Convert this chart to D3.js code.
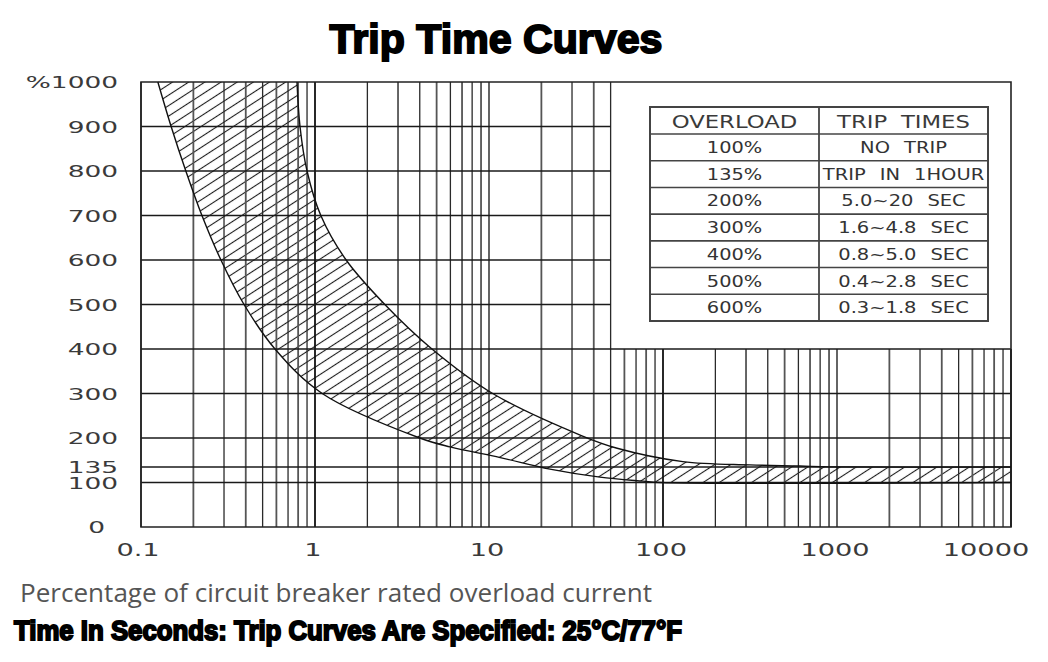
<!DOCTYPE html>
<html><head><meta charset="utf-8">
<script src="https://cdn.jsdelivr.net/npm/d3@7"></script>
<style>body{margin:0;background:#fff}svg{display:block}</style>
</head><body>
<svg id="chart" width="1048" height="662"></svg>
<script>
// ---- data ----
const xTickValues = [0.1, 1, 10, 100, 1000, 10000];
const xTickLabels = ["0.1", "1", "10", "100", "1000", "10000"];
const yTickValues = [0, 100, 135, 200, 300, 400, 500, 600, 700, 800, 900, 1000];
const yTickLabels = ["0", "100", "135", "200", "300", "400", "500", "600", "700", "800", "900", "%1000"];
const hGridValues = [100, 135, 200, 300, 400, 500, 600, 700, 800, 900];

// fast-trip (lower) boundary: overload % vs seconds
const fastLoad = [1000, 900, 800, 700, 600, 500, 400, 300, 200, 180, 156, 130, 112, 103, 100, 100];
const fastTime = [0.125, 0.149, 0.181, 0.224, 0.288, 0.391, 0.589, 1.10, 4.0, 5.97, 11.6, 22.4, 43.4, 76.8, 96, 10000];
// slow-trip (upper) boundary
const slowLoad = [1000, 900, 800, 700, 600, 500, 400, 300, 205, 177, 147, 139.5, 137, 135, 135];
const slowTime = [0.788, 0.82, 0.90, 1.08, 1.51, 2.52, 4.70, 10.5, 34.2, 54.5, 130, 316, 613, 912, 10000];

const tableHeaders = ["OVERLOAD", "TRIP TIMES"];
const overloadLabels = ["100%", "135%", "200%", "300%", "400%", "500%", "600%"];
const tripTimeLabels = ["NO TRIP", "TRIP IN 1HOUR", "5.0~20 SEC", "1.6~4.8 SEC", "0.8~5.0 SEC", "0.4~2.8 SEC", "0.3~1.8 SEC"];

const titleText = "Trip Time Curves";
const xAxisText = "Percentage of circuit breaker rated overload current";
const noteText = "Time In Seconds: Trip Curves Are Specified: 25°C/77°F";

// ---- layout ----
const svg = d3.select("#chart");
const M = {left: 141, right: 1011, top: 82, bottom: 527};
const x = d3.scaleLog().domain([0.1, 10000]).range([M.left, M.right]);
const y = d3.scaleLinear().domain([0, 1000]).range([M.bottom, M.top]);
const tableCut = 50;      // grid columns to the right of this start at 400%
const tableCutLoad = 400;
const techFont = "DejaVu Sans";

// hatch pattern
const defs = svg.append("defs");
const pat = defs.append("pattern").attr("id", "hatch")
  .attr("patternUnits", "userSpaceOnUse").attr("width", 12).attr("height", 8.8)
  .attr("patternTransform", "rotate(-33)");
pat.append("line").attr("x1", 0).attr("x2", 12).attr("y1", 4.4).attr("y2", 4.4)
  .attr("stroke", "#1a1a1a").attr("stroke-width", 1.1);

// title
svg.append("text").text(titleText)
  .attr("x", 496).attr("y", 53).attr("text-anchor", "middle")
  .attr("font-family", "Liberation Sans, Arial, sans-serif").attr("font-weight", "bold")
  .attr("font-size", 41).attr("fill", "#000").attr("stroke", "#000").attr("stroke-width", 1.9)
  .attr("textLength", 333).attr("lengthAdjust", "spacingAndGlyphs");

// hatched band
const fastPts = fastTime.map((t, i) => [x(t), y(fastLoad[i])]);
const slowPts = slowTime.map((t, i) => [x(t), y(slowLoad[i])]);
const line = d3.line().curve(d3.curveCatmullRom.alpha(0.5));
const bandPath = line(fastPts) + "L" + line(slowPts.slice().reverse()).slice(1) + "Z";
svg.append("path").attr("d", bandPath).attr("fill", "url(#hatch)").attr("stroke", "none");

// grid: vertical
const vTicks = x.ticks();
svg.append("g").selectAll("line").data(vTicks).join("line")
  .attr("x1", d => x(d)).attr("x2", d => x(d))
  .attr("y1", d => d <= tableCut + 1e-6 ? M.top : y(tableCutLoad))
  .attr("y2", M.bottom)
  .attr("stroke", (d, i) => (Math.abs(Math.log10(d) - Math.round(Math.log10(d))) < 1e-6) ? "#111" : (i % 2 ? "#555" : "#2a2a2a"))
  .attr("stroke-width", (d, i) => i % 2 ? 1.8 : 1.3);

// grid: horizontal
svg.append("g").selectAll("line").data(hGridValues).join("line")
  .attr("x1", M.left)
  .attr("x2", d => d > tableCutLoad ? x(tableCut) : M.right)
  .attr("y1", d => y(d)).attr("y2", d => y(d))
  .attr("stroke", "#1a1a1a").attr("stroke-width", 1.5);

// frame
svg.append("path")
  .attr("d", `M${M.left},${M.top}H${M.right}V${M.bottom}H${M.left}Z`)
  .attr("fill", "none").attr("stroke", "#222").attr("stroke-width", 1.6);

// curves
svg.append("path").attr("d", line(fastPts)).attr("fill", "none")
  .attr("stroke", "#111").attr("stroke-width", 1.4);
svg.append("path").attr("d", line(slowPts)).attr("fill", "none")
  .attr("stroke", "#111").attr("stroke-width", 1.4);

// y labels
const yl = svg.append("g");
yTickValues.forEach((v, i) => {
  const xr = v === 0 ? 105 : 118;
  yl.append("g").attr("transform", `translate(${xr},${y(v) + 6}) scale(1.6,1)`)
    .append("text").text(yTickLabels[i]).attr("text-anchor", "end")
    .attr("font-family", techFont).attr("font-size", 16.5).attr("fill", "#3a3a3a");
});

// x labels
const xl = svg.append("g");
xTickValues.forEach((v, i) => {
  const dx = i === xTickValues.length - 1 ? -25 : (i === 0 ? -3 : -2);
  xl.append("g").attr("transform", `translate(${x(v) + dx},556) scale(1.6,1)`)
    .append("text").text(xTickLabels[i]).attr("text-anchor", "middle")
    .attr("font-family", techFont).attr("font-size", 17).attr("fill", "#3a3a3a");
});

// table
const T = {x0: 650, x1: 988, xm: 819, y0: 107, yh: 134, y1: 321};
const rowH = (T.y1 - T.yh) / overloadLabels.length;
const tg = svg.append("g");
tg.append("rect").attr("x", T.x0).attr("y", T.y0).attr("width", T.x1 - T.x0).attr("height", T.y1 - T.y0)
  .attr("fill", "#fff").attr("stroke", "#444").attr("stroke-width", 2);
tg.append("line").attr("x1", T.xm).attr("x2", T.xm).attr("y1", T.y0).attr("y2", T.y1)
  .attr("stroke", "#444").attr("stroke-width", 1.8);
d3.range(overloadLabels.length).forEach(i => {
  const yy = T.yh + i * rowH;
  tg.append("line").attr("x1", T.x0).attr("x2", T.x1).attr("y1", yy).attr("y2", yy)
    .attr("stroke", "#444").attr("stroke-width", 1.6);
});
const colC = [(T.x0 + T.xm) / 2, (T.xm + T.x1) / 2];
tableHeaders.forEach((h, j) => {
  tg.append("g").attr("transform", `translate(${colC[j]},${T.y0 + 21}) scale(1.3,1)`)
    .append("text").text(h).attr("text-anchor", "middle")
    .attr("font-family", techFont).attr("font-size", 17.5).attr("fill", "#3a3a3a")
    .attr("word-spacing", 5);
});
overloadLabels.forEach((lab, i) => {
  const cy = T.yh + i * rowH + rowH / 2 + 5.6;
  tg.append("g").attr("transform", `translate(${colC[0]},${cy}) scale(1.25,1)`)
    .append("text").text(lab).attr("text-anchor", "middle")
    .attr("font-family", techFont).attr("font-size", 15.5).attr("fill", "#333");
  tg.append("g").attr("transform", `translate(${colC[1]},${cy}) scale(1.3,1)`)
    .append("text").text(tripTimeLabels[i]).attr("text-anchor", "middle")
    .attr("font-family", techFont).attr("font-size", 15).attr("fill", "#333")
    .attr("word-spacing", 6);
});

// bottom texts
svg.append("text").text(xAxisText).attr("x", 20).attr("y", 602)
  .attr("font-family", "Open Sans, sans-serif").attr("font-size", 26).attr("fill", "#555")
  .attr("textLength", 632).attr("lengthAdjust", "spacingAndGlyphs");
svg.append("text").text(noteText).attr("x", 14).attr("y", 640)
  .attr("font-family", "Liberation Sans, Arial, sans-serif").attr("font-weight", "bold")
  .attr("font-size", 28).attr("fill", "#000").attr("stroke", "#000").attr("stroke-width", 2)
  .attr("textLength", 668).attr("lengthAdjust", "spacingAndGlyphs");
</script>
</body></html>
